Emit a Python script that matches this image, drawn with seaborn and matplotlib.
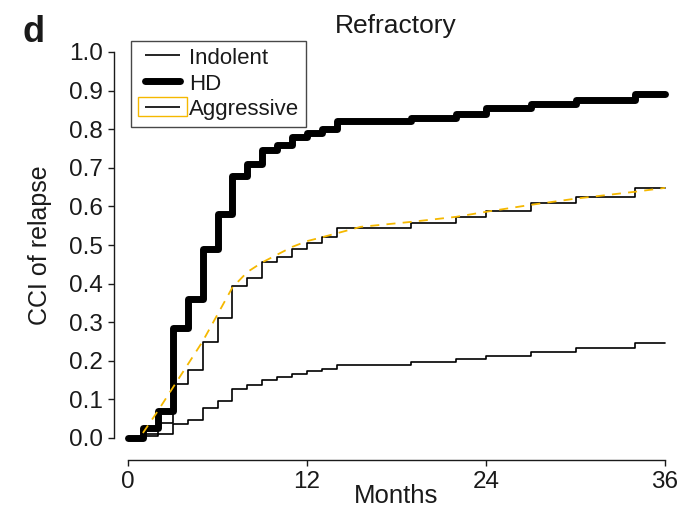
import matplotlib
matplotlib.use("Agg")
import matplotlib.pyplot as plt
from matplotlib.lines import Line2D
from matplotlib.patches import Rectangle
import seaborn as sns
import pandas as pd

# data (step changes, months -> cumulative incidence)
months = [0, 1, 2, 3, 4, 5, 6, 7, 8, 9, 10, 11, 12, 13, 14, 19, 22, 24, 27, 30, 34, 36]
cci_hd = [0, 0.026, 0.07, 0.285, 0.36, 0.49, 0.58, 0.68, 0.71, 0.745, 0.76, 0.78,
          0.79, 0.80, 0.82, 0.83, 0.84, 0.855, 0.865, 0.875, 0.89, 0.89]
cci_aggressive = [0, 0.01, 0.04, 0.14, 0.175, 0.25, 0.31, 0.395, 0.415, 0.455, 0.47, 0.49,
                  0.505, 0.52, 0.545, 0.557, 0.573, 0.588, 0.609, 0.624, 0.648, 0.648]
cci_indolent = [0, 0.005, 0.01, 0.037, 0.047, 0.078, 0.096, 0.127, 0.137, 0.15, 0.158, 0.165,
                0.173, 0.178, 0.189, 0.197, 0.204, 0.212, 0.223, 0.233, 0.246, 0.246]

# smooth fitted curve for the aggressive group
fit_months = [1, 2, 3, 4, 5, 6, 7, 8, 9, 10, 11, 12, 13, 15.6, 19, 22, 24, 27, 30, 34, 36]
fit_aggressive = [0.013, 0.07, 0.13, 0.19, 0.25, 0.32, 0.39, 0.43, 0.455, 0.475, 0.495, 0.51,
                  0.52, 0.547, 0.56, 0.573, 0.586, 0.604, 0.62, 0.638, 0.648]

group_names = ["Indolent", "HD", "Aggressive"]

GOLD = "#f5b800"
INK = "#1a1a1a"


class ShortLine:
    """legend handle: a line shorter than the handle box, optional coloured box round it"""

    def __init__(self, lw, box=None):
        self.lw = lw
        self.box = box

    def legend_artist(self, legend, orig, fontsize, handlebox):
        x0, y0 = handlebox.xdescent, handlebox.ydescent
        w, h = handlebox.width, handlebox.height
        if self.box:
            rect = Rectangle((x0, y0 - 1), w, h + 2, facecolor="none",
                             edgecolor=self.box, lw=1, transform=handlebox.get_transform())
            handlebox.add_artist(rect)
        line = Line2D([x0 + 0.14 * w, x0 + 0.86 * w], [y0 + h / 2] * 2, color="black",
                      lw=self.lw, solid_capstyle="round" if self.lw > 2 else "butt",
                      transform=handlebox.get_transform())
        handlebox.add_artist(line)
        return line


sns.set_theme(style="ticks")
plt.rcParams["font.family"] = ["Liberation Sans", "DejaVu Sans"]

fig = plt.figure(figsize=(6.81, 5.08), dpi=100)
ax = fig.add_axes([128 / 681, 70 / 508, 537 / 681, 386 / 508])

df = pd.DataFrame({"Months": months, "HD": cci_hd,
                   "Aggressive": cci_aggressive, "Indolent": cci_indolent})
fit = pd.DataFrame({"Months": fit_months, "CCI": fit_aggressive})

sns.lineplot(data=df, x="Months", y="Indolent", ax=ax, color="black", lw=1.2,
             drawstyle="steps-post", clip_on=False)
sns.lineplot(data=df, x="Months", y="Aggressive", ax=ax, color="black", lw=1.2,
             drawstyle="steps-post", clip_on=False)
sns.lineplot(data=df, x="Months", y="HD", ax=ax, color="black", lw=5,
             drawstyle="steps-post", solid_capstyle="round", clip_on=False)
sns.lineplot(data=fit, x="Months", y="CCI", ax=ax, color=GOLD, lw=1.3,
             linestyle=(0, (5, 4)), clip_on=False)

ax.set_xlim(0, 36)
ax.set_ylim(0, 1)
ax.set_xticks([0, 12, 24, 36])
ax.set_yticks([i / 10 for i in range(11)])
ax.set_yticklabels([f"{i / 10:.1f}" for i in range(11)])
ax.tick_params(labelsize=17.5, length=4.5, width=1, colors=INK, pad=3.5)
sns.despine(ax=ax)
ax.spines["left"].set_position(("outward", 10))
ax.spines["bottom"].set_position(("outward", 16))
ax.spines["left"].set_bounds(0, 1)
ax.spines["bottom"].set_bounds(0, 36)
for s in ("left", "bottom"):
    ax.spines[s].set_linewidth(1)
    ax.spines[s].set_color(INK)

ax.set_xlabel("Months", fontsize=18.5, color=INK)
ax.xaxis.label.set_va("baseline")
ax.xaxis.set_label_coords(0.5, -(503 - 438) / 386)
ax.set_ylabel("CCI of relapse", fontsize=18, color=INK)
ax.yaxis.label.set_va("baseline")
ax.yaxis.set_label_coords(-(128 - 47) / 537, 0.5)

fig.text(396 / 681, 1 - 33 / 508, "Refractory", fontsize=19, color=INK,
         ha="center", va="baseline")
fig.text(34 / 681, 1 - 32 / 508, "d", fontsize=26, fontweight="bold", color=INK,
         ha="center", va="center")

handles = [Line2D([], []), Line2D([], []), Rectangle((0, 0), 1, 1)]
leg = fig.legend(handles, group_names,
                 handler_map={handles[0]: ShortLine(1.2),
                              handles[1]: ShortLine(5),
                              handles[2]: ShortLine(1.2, box=GOLD)},
                 loc="upper left", bbox_to_anchor=(131 / 681, 1 - 41 / 508),
                 fontsize=16, fancybox=False, frameon=True, borderpad=0.3,
                 handlelength=2.2, handleheight=0.75, handletextpad=0.1,
                 labelspacing=0.22, borderaxespad=0)
leg.get_frame().set_edgecolor(INK)
leg.get_frame().set_linewidth(1)
for t in leg.get_texts():
    t.set_color(INK)

fig.savefig("out.png", dpi=100)
